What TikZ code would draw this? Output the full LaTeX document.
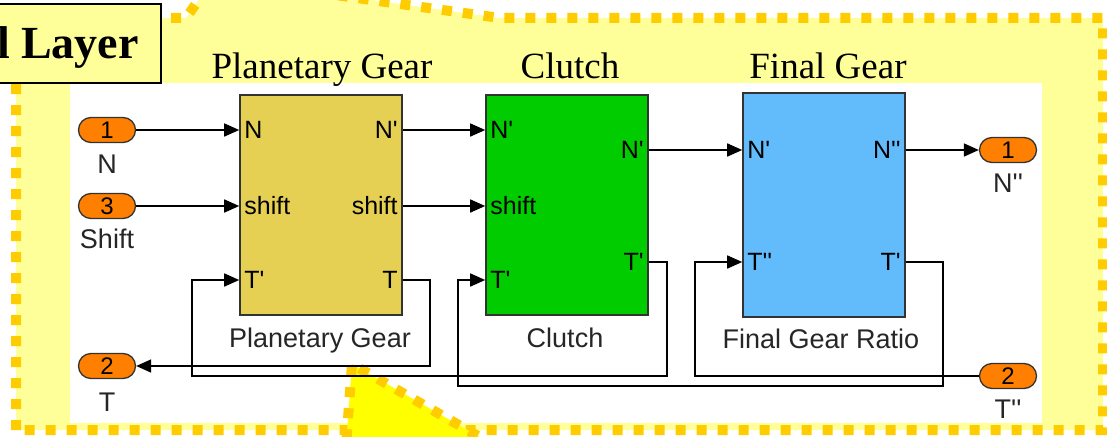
\documentclass[tikz,border=0pt]{standalone}
\usepackage{fontspec}
\setmainfont{Liberation Serif}
\newfontfamily\simfont{Liberation Sans}[Ligatures=TeXOff]
\usetikzlibrary{arrows.meta, shapes.misc}

\definecolor{paleyel}{HTML}{FFFF99}
\definecolor{dotorange}{HTML}{FFCC00}
\definecolor{brightyel}{HTML}{FFFF00}
\definecolor{pgcol}{RGB}{230,208,84}
\definecolor{clcol}{HTML}{00CC00}
\definecolor{fgcol}{RGB}{98,187,250}
\definecolor{portcol}{HTML}{FF8000}

\begin{document}
\begin{tikzpicture}[x=1pt, y=-1pt,
  dots/.style={draw=dotorange, line width=10pt, dash pattern=on 10pt off 11pt},
  block/.style={draw=black!80, line width=1.6pt, minimum width=162pt, minimum height=220pt},
  pill/.style={rounded rectangle, draw=black!80, line width=1.3pt, fill=portcol,
    minimum width=57pt, minimum height=25pt, inner sep=0pt, font=\simfont\fontsize{24}{24}\selectfont},
  plab/.style={font=\simfont\fontsize{27}{30}\selectfont, text=black!85, inner sep=0pt, anchor=base},
  port/.style={font=\simfont\fontsize{25}{28}\selectfont, inner sep=0pt},
  title/.style={font=\fontsize{37}{40}\selectfont, inner sep=0pt, anchor=base},
  wire/.style={line width=1.6pt},
  arr/.style={wire, -{Triangle[length=15pt, width=13pt]}}]
  \useasboundingbox (0,0) rectangle (1107,436);
  \clip (0,0) rectangle (1107,436);

  % subsystem callout
  \filldraw[fill=paleyel, dots] (16,430) -- (16,18) -- (186,18) -- (214,-22) -- (500,18)
    -- (1103,18) -- (1103,430) -- cycle;
  \fill[white] (70,83) rectangle (1042,423);
  \filldraw[fill=brightyel, dots] (345,460) -- (352,364) -- (520,460) -- cycle;

  \node[draw, line width=1.8pt, fill=paleyel, minimum width=190pt, minimum height=79pt,
    anchor=north east] (layerbox) at (162,3) {};
  \node[anchor=base east, inner sep=0pt, font=\bfseries\fontsize{46}{50}\selectfont] (layer) at (139,59) {l Layer};

  \node[title] (pgtitle) at (322,78) {Planetary Gear};
  \node[title] (cltitle) at (570,78) {Clutch};
  \node[title] (fgtitle) at (828,78) {Final Gear};

  % blocks
  \node[block, fill=pgcol] (pg) at (321,205) {};
  \node[block, fill=clcol] (cl) at (567,205) {};
  \node[block, fill=fgcol, minimum height=224pt] (fg) at (824,205) {};
  \node[plab] (pglab) at (320,347) {Planetary Gear};
  \node[plab] (cllab) at (565,347) {Clutch};
  \node[plab] (fglab) at (821,348) {Final Gear Ratio};

  % ports
  \node[pill] (inN) at (107,130) {1};
  \node[pill] (inS) at (107,206) {3};
  \node[pill] (outT) at (107,366) {2};
  \node[pill] (outN) at (1008,150) {1};
  \node[pill] (inT) at (1008,376) {2};
  \node[plab] (inNlab) at (107,173) {N};
  \node[plab] (inSlab) at (107,248) {Shift};
  \node[plab] (outTlab) at (107,411) {T};
  \node[plab] (outNlab) at (1008,192) {N''};
  \node[plab] (inTlab) at (1008,418) {T''};

  % rows and turns
  \coordinate (r1) at (0,130);
  \coordinate (r2) at (0,150);
  \coordinate (r3) at (0,206);
  \coordinate (r4) at (0,262);
  \coordinate (r5) at (0,280);
  \coordinate (b1) at (0,366);
  \coordinate (b2) at (0,376);
  \coordinate (b3) at (0,386);
  \coordinate (c0) at (430,0);
  \coordinate (c1) at (192,0);
  \coordinate (c2) at (667,0);
  \coordinate (c3) at (458,0);
  \coordinate (c4) at (695,0);
  \coordinate (c5) at (943,0);

  \node[port, anchor=west] (pgN) at ([xshift=5pt]pg.west |- r1) {N};
  \node[port, anchor=west] (pgS) at ([xshift=5pt]pg.west |- r3) {shift};
  \node[port, anchor=west] (pgT) at ([xshift=5pt]pg.west |- r5) {T'};
  \node[port, anchor=east] (pgNo) at ([xshift=-5pt]pg.east |- r1) {N'};
  \node[port, anchor=east] (pgSo) at ([xshift=-5pt]pg.east |- r3) {shift};
  \node[port, anchor=east] (pgTo) at ([xshift=-5pt]pg.east |- r5) {T};
  \node[port, anchor=west] (clN) at ([xshift=5pt]cl.west |- r1) {N'};
  \node[port, anchor=west] (clS) at ([xshift=5pt]cl.west |- r3) {shift};
  \node[port, anchor=west] (clT) at ([xshift=5pt]cl.west |- r5) {T'};
  \node[port, anchor=east] (clNo) at ([xshift=-5pt]cl.east |- r2) {N'};
  \node[port, anchor=east] (clTo) at ([xshift=-5pt]cl.east |- r4) {T'};
  \node[port, anchor=west] (fgN) at ([xshift=5pt]fg.west |- r2) {N'};
  \node[port, anchor=west] (fgT) at ([xshift=5pt]fg.west |- r4) {T''};
  \node[port, anchor=east] (fgNo) at ([xshift=-5pt]fg.east |- r2) {N''};
  \node[port, anchor=east] (fgTo) at ([xshift=-5pt]fg.east |- r4) {T'};

  % signal lines
  \draw[arr] (inN) -- (pg.west |- r1);
  \draw[arr] (inS) -- (pg.west |- r3);
  \draw[arr] (pg.east |- r1) -- (cl.west |- r1);
  \draw[arr] (pg.east |- r3) -- (cl.west |- r3);
  \draw[arr] (cl.east |- r2) -- (fg.west |- r2);
  \draw[arr] (fg.east |- r2) -- (outN);
  \draw[arr] (pg.east |- r5) -| (c0 |- b1) -- (outT);
  \draw[arr] (cl.east |- r4) -| (c2 |- b2) -| (c1 |- r5) -- (pg.west |- r5);
  \draw[arr] (fg.east |- r4) -| (c5 |- b3) -| (c3 |- r5) -- (cl.west |- r5);
  \draw[arr] (inT) -| (c4 |- r4) -- (fg.west |- r4);
\end{tikzpicture}
\end{document}
